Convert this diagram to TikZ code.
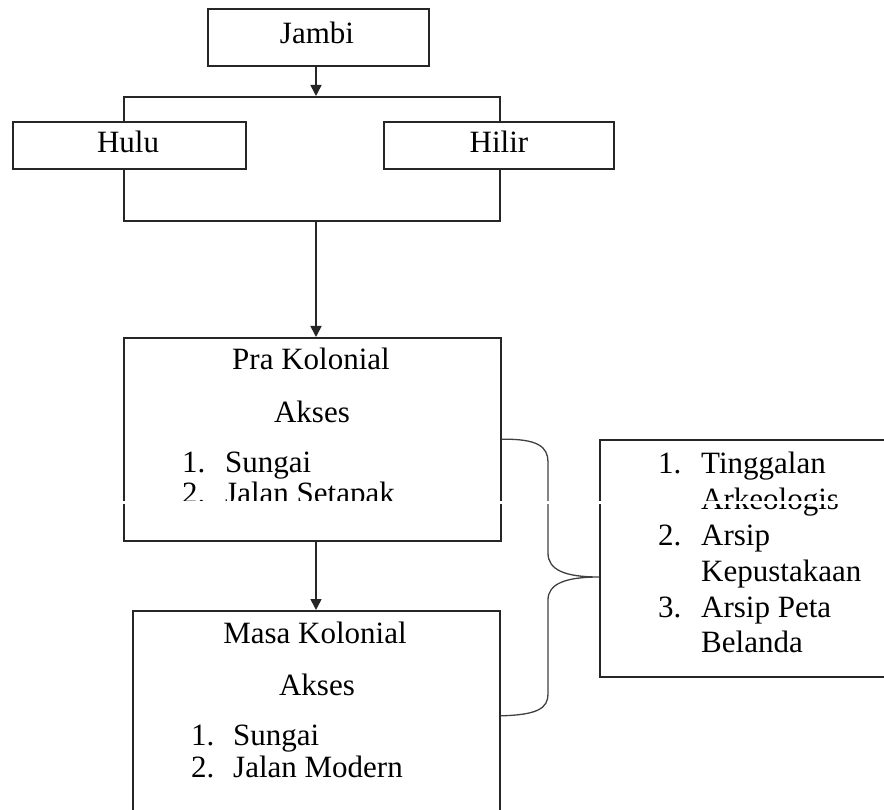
\documentclass[tikz,border=0pt]{standalone}
\usepackage{fontspec}
\setmainfont{Liberation Serif}
\usetikzlibrary{arrows.meta}
\begin{document}
\begin{tikzpicture}[x=1pt,y=-1pt,
  box/.style={draw=black!85, line width=1.6pt, fill=white, inner sep=0pt, anchor=north west},
  txt/.style={inner sep=0pt, font=\fontsize{31}{36}\selectfont},
  arr/.style={draw=black!85, line width=1.6pt, -{Triangle[width=11pt,length=11pt]}},
  bracestyle/.style={draw=black!75, line width=1.3pt}]
\useasboundingbox (0,0) rectangle (884,810);
\coordinate (ax) at (316,0);
% boxes
\node[box, minimum width=221pt, minimum height=57pt] (jambi) at (207,8) {};
\node[box, fill=none, minimum width=376pt, minimum height=124pt] (frame) at (123,96) {};
\node[box, minimum width=233pt, minimum height=47pt] (hulu) at (12,121) {};
\node[box, minimum width=230pt, minimum height=47pt] (hilir) at (383,121) {};
\node[box, minimum width=377pt, minimum height=203pt] (pra) at (123,337) {};
\node[box, minimum width=367pt, minimum height=210pt] (masa) at (132,610) {};
\node[box, minimum width=300pt, minimum height=237pt] (rb) at (599,439) {};
% texts
\node[txt, anchor=base] (tjambi) at (317,44) {Jambi};
\node[txt, anchor=base] (thulu) at (128,153) {Hulu};
\node[txt, anchor=base] (thilir) at (499,153) {Hilir};
\node[txt, anchor=base] (tpra) at (311,370) {Pra Kolonial};
\node[txt, anchor=base] (tak1) at (312,422) {Akses};
\node[txt, anchor=base west] (p1n) at (182,472) {1.};
\node[txt, anchor=base west] (p1t) at (225,472) {Sungai};
\begin{scope}
\clip (0,0) rectangle (884,501);
\node[txt, anchor=base west] (p2n) at (182,503) {2.};
\node[txt, anchor=base west] (p2t) at (225,503) {Jalan Setapak};
\end{scope}
\node[txt, anchor=base] (tmasa) at (315,643) {Masa Kolonial};
\node[txt, anchor=base] (tak2) at (317,695) {Akses};
\node[txt, anchor=base west] (m1n) at (191,745) {1.};
\node[txt, anchor=base west] (m1t) at (233,745) {Sungai};
\node[txt, anchor=base west] (m2n) at (191,777) {2.};
\node[txt, anchor=base west] (m2t) at (233,777) {Jalan Modern};
\node[txt, anchor=base west] (r1n) at (658,473) {1.};
\node[txt, anchor=base west] (r1t) at (701,473) {Tinggalan};
\node[txt, anchor=base west] (r1u) at (701,509) {Arkeologis};
\node[txt, anchor=base west] (r2n) at (658,545) {2.};
\node[txt, anchor=base west] (r2t) at (701,545) {Arsip};
\node[txt, anchor=base west] (r2u) at (701,581) {Kepustakaan};
\node[txt, anchor=base west] (r3n) at (658,617) {3.};
\node[txt, anchor=base west] (r3t) at (701,617) {Arsip Peta};
\node[txt, anchor=base west] (r3u) at (701,652) {Belanda};
% connectors
\draw[arr] (jambi.south -| ax) -- (frame.north -| ax);
\draw[arr] (frame.south -| ax) -- (pra.north -| ax);
\draw[arr] (pra.south -| ax) -- (masa.north -| ax);
\coordinate (tip) at (599,577);
\draw[bracestyle] (pra.east) .. controls (538,438.5) and (548,447) .. (548,462)
  -- (548,553) .. controls (548,570) and (565,577) .. (tip)
  .. controls (565,577) and (548,584) .. (548,600)
  -- (548,694) .. controls (548,708) and (538,715) .. (masa.east);
% page-break strip
\fill[white] (0,501) rectangle (884,504);
\end{tikzpicture}
\end{document}
